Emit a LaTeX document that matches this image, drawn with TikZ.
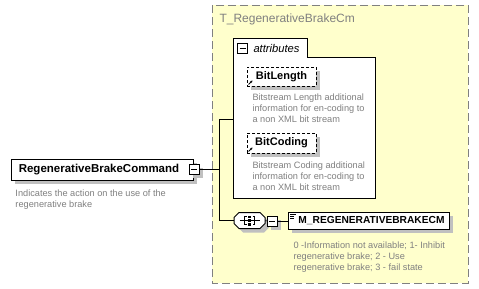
\documentclass[tikz,border=0pt]{standalone}
\usepackage{fontspec}
\setmainfont{Liberation Sans}
\usetikzlibrary{shadows,arrows.meta,calc}
\definecolor{bgyellow}{RGB}{255,255,204}
\definecolor{descgray}{RGB}{128,128,128}
\definecolor{shadowgray}{RGB}{192,192,192}
\definecolor{framegray}{RGB}{128,128,128}

\begin{document}
\begin{tikzpicture}[x=1pt,y=-1pt,line width=1pt,
  shade4/.style={drop shadow={shadow xshift=4pt,shadow yshift=-4pt,fill=shadowgray,opacity=1}},
  elem/.style={draw=black,fill=white,inner sep=0pt,shade4,
    font=\bfseries\fontsize{11.2}{13}\selectfont},
  attrelem/.style={elem,dashed,dash pattern=on 3pt off 2pt,
    font=\bfseries\fontsize{11}{13}\selectfont},
  minusbox/.style={draw=black,fill=white,minimum size=10,inner sep=0pt,
    path picture={\draw[line width=1pt]
      ([xshift=2pt]path picture bounding box.west) --
      ([xshift=-2pt]path picture bounding box.east);}},
  desc/.style={text=descgray,inner sep=0pt,align=left,
    font=\fontsize{9.2}{11}\selectfont},
  conn/.style={draw=black,line width=1pt},
  refarrow/.style={-{Stealth[length=2.5pt,width=2.5pt]},line width=0.8pt}]
\useasboundingbox (0,0) rectangle (479,289);
\fill[white] (0,0) rectangle (479,289);

% complex type frame
\draw[fill=bgyellow,draw=framegray,dash pattern=on 8pt off 4pt]
  (212,5) rectangle (468,283);
\node[anchor=base west,inner sep=0pt,text=framegray,
  font=\fontsize{12}{14}\selectfont] (ctitle) at (219,23) {T\_RegenerativeBrakeCm};

% attribute group with tab
\draw[fill=white] (233,198) -- (233,38) -- (307,38) -- (307,57)
  -- (375,57) -- (375,198) -- cycle;
\node[minusbox] (attrm) at (242.5,48) {};
\node[anchor=base west,inner sep=0pt,
  font=\itshape\fontsize{11.2}{13}\selectfont] (attrlabel) at (253,52) {attributes};
\coordinate (attrjoin) at (233,119);

% attributes
\node[attrelem,minimum width=69,minimum height=19] (bl) at (281.5,76.5) {BitLength};
\draw[refarrow] ($(bl.south west)+(2,-2)$) -- ++(4,-4);
\node[desc,anchor=north west] (bldesc) at (252,93.2)
  {Bitstream Length additional\\information for en-coding to\\a non XML bit stream};

\node[attrelem,minimum width=69,minimum height=20] (bc) at (281.5,143) {BitCoding};
\draw[refarrow] ($(bc.south west)+(2,-2)$) -- ++(4,-4);
\node[desc,anchor=north west] (bcdesc) at (252,161.2)
  {Bitstream Coding additional\\information for en-coding to\\a non XML bit stream};

% root element
\node[elem,minimum width=182,minimum height=21,font=\bfseries\fontsize{11.5}{13}\selectfont]
  (cmd) at (102,169.5) {RegenerativeBrakeCommand\hspace*{6pt}};
\node[minusbox,shade4] (cmdm) at (194,169) {};
\node[desc,anchor=north west] (cmddesc) at (15,189.2)
  {Indicates the action on the use of the\\regenerative brake};

% sequence compositor: octagon with shadow, then its symbol
\node[minimum width=31,minimum height=16,inner sep=0pt] (seq) at (249.5,220.5) {};
\begin{scope}[shift={(seq.center)}]
  \fill[shadowgray,shift={(4,4)}] (-10.5,-8) -- (10.5,-8) -- (15.5,-3) -- (15.5,3)
    -- (10.5,8) -- (-10.5,8) -- (-15.5,3) -- (-15.5,-3) -- cycle;
  \draw[fill=white] (-10.5,-8) -- (10.5,-8) -- (15.5,-3) -- (15.5,3)
    -- (10.5,8) -- (-10.5,8) -- (-15.5,3) -- (-15.5,-3) -- cycle;
  \draw (-10,0) -- (10,0);
  \draw (-3,-4) -- (-5,-4) -- (-5,4) -- (-3,4);
  \draw (3,-4) -- (5,-4) -- (5,4) -- (3,4);
  \fill (-1.2,-5) rectangle (1.2,-2.6);
  \fill (-1.2,-1.2) rectangle (1.2,1.2);
  \fill (-1.2,2.6) rectangle (1.2,5);
\end{scope}
\node[minusbox,shade4] (seqm) at (272,221) {};

% child element
\node[elem,minimum width=161,minimum height=17,font=\bfseries\fontsize{10.2}{12}\selectfont]
  (mel) at (368.5,220.5) {\hspace*{6pt}M\_REGENERATIVEBRAKECM};
\begin{scope}[line width=0.7pt]
  \draw ($(mel.north west)+(2.5,2.5)$) -- ++(6,0);
  \draw ($(mel.north west)+(2.5,4.5)$) -- ++(4,0);
  \draw ($(mel.north west)+(2.5,6.5)$) -- ++(4,0);
\end{scope}
\node[desc,anchor=north west] (meldesc) at (293,241.2)
  {0 -Information not available; 1- Inhibit\\regenerative brake; 2 - Use\\regenerative brake; 3 - fail state};

% connectors
\coordinate (bus) at (219,169);
\draw[conn] (cmdm.east) -- (bus);
\draw[conn] (attrjoin) -- (attrjoin -| bus) -- (seq.west -| bus) -- (seq.west);
\draw[conn] (seq.east) -- (seqm.west);
\draw[conn] (seqm.east) -- (mel.west |- seqm.east);
\end{tikzpicture}
\end{document}
